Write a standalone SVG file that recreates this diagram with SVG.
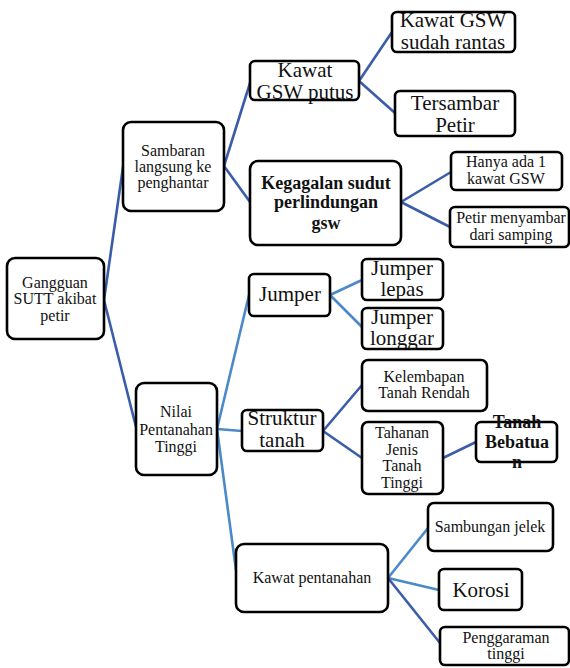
<svg xmlns="http://www.w3.org/2000/svg" width="570" height="668" viewBox="0 0 570 668" font-family="Liberation Serif">
<style>
svg g text, svg g tspan, text, tspan{font-family:"Liberation Serif",serif !important}
.box{fill:#fff;stroke:#000;stroke-width:2.6}
.d{stroke:#3b5ca8;stroke-width:2.6;fill:none}
.l{stroke:#4b89c8;stroke-width:2.6;fill:none}
</style>
<rect width="570" height="668" fill="#fff"/>
<g id="connectors">
<line class="d" x1="104" y1="300" x2="123" y2="167"/>
<line class="d" x1="104" y1="300" x2="136" y2="427"/>
<line class="d" x1="224" y1="166" x2="250" y2="83"/>
<line class="d" x1="224" y1="166" x2="250" y2="202"/>
<line class="d" x1="359" y1="81" x2="392" y2="32"/>
<line class="d" x1="359" y1="81" x2="395" y2="113"/>
<line class="d" x1="401" y1="202" x2="451" y2="172"/>
<line class="d" x1="401" y1="202" x2="450" y2="227"/>
<line class="l" x1="217" y1="429" x2="249" y2="295"/>
<line class="l" x1="217" y1="429" x2="242" y2="431"/>
<line class="l" x1="217" y1="429" x2="236" y2="570"/>
<line class="l" x1="330" y1="295" x2="362" y2="280"/>
<line class="l" x1="330" y1="295" x2="362" y2="327"/>
<line class="d" x1="323" y1="431" x2="362" y2="385"/>
<line class="d" x1="323" y1="431" x2="362" y2="458"/>
<line class="d" x1="443" y1="458" x2="476" y2="442"/>
<line class="l" x1="388" y1="578" x2="428" y2="528"/>
<line class="l" x1="388" y1="578" x2="439" y2="590"/>
<line class="d" x1="388" y1="578" x2="440" y2="643"/>
</g>
<g id="gangguan">
<rect class="box" x="7" y="258" width="97" height="81" rx="8"/>
<text font-family="Liberation Serif" font-size="16" fill="#111" text-anchor="middle" style="font-family:'Liberation Serif',serif !important"><tspan x="55" y="288">Gangguan</tspan><tspan x="55" y="304">SUTT akibat</tspan><tspan x="55" y="321">petir</tspan></text>
</g>
<g id="sambaran">
<rect class="box" x="123" y="122" width="101" height="89" rx="8"/>
<text font-family="Liberation Serif" font-size="16" fill="#111" text-anchor="middle" style="font-family:'Liberation Serif',serif !important"><tspan x="173" y="156">Sambaran</tspan><tspan x="173" y="172">langsung ke</tspan><tspan x="173" y="188">penghantar</tspan></text>
</g>
<g id="nilai">
<rect class="box" x="136" y="383" width="81" height="92" rx="8"/>
<text font-family="Liberation Serif" font-size="16" fill="#111" text-anchor="middle" style="font-family:'Liberation Serif',serif !important"><tspan x="176" y="417">Nilai</tspan><tspan x="176" y="435">Pentanahan</tspan><tspan x="176" y="452">Tinggi</tspan></text>
</g>
<g id="kawat-gsw-putus">
<rect class="box" x="250" y="61" width="109" height="39" rx="5"/>
<text font-family="Liberation Serif" font-size="21" fill="#111" text-anchor="middle" style="font-family:'Liberation Serif',serif !important"><tspan x="305" y="77">Kawat</tspan><tspan x="305" y="99">GSW putus</tspan></text>
</g>
<g id="kegagalan">
<rect class="box" x="250" y="161" width="151" height="84" rx="8"/>
<text font-family="Liberation Serif" font-size="18" font-weight="bold" fill="#111" text-anchor="middle" style="font-family:'Liberation Serif',serif !important"><tspan x="326" y="189">Kegagalan sudut</tspan><tspan x="326" y="208">perlindungan</tspan><tspan x="326" y="229">gsw</tspan></text>
</g>
<g id="kawat-gsw-rantas">
<rect class="box" x="392" y="12" width="123" height="40" rx="5"/>
<text font-family="Liberation Serif" font-size="21" fill="#111" text-anchor="middle" style="font-family:'Liberation Serif',serif !important"><tspan x="453" y="27">Kawat GSW</tspan><tspan x="453" y="49">sudah rantas</tspan></text>
</g>
<g id="tersambar-petir">
<rect class="box" x="395" y="91" width="120" height="45" rx="5"/>
<text font-family="Liberation Serif" font-size="21" fill="#111" text-anchor="middle" style="font-family:'Liberation Serif',serif !important"><tspan x="455" y="110">Tersambar</tspan><tspan x="455" y="132">Petir</tspan></text>
</g>
<g id="hanya-ada">
<rect class="box" x="451" y="152" width="111" height="38" rx="5"/>
<text font-family="Liberation Serif" font-size="16" fill="#111" text-anchor="middle" style="font-family:'Liberation Serif',serif !important"><tspan x="506" y="167">Hanya ada 1</tspan><tspan x="506" y="184">kawat GSW</tspan></text>
</g>
<g id="petir-samping">
<rect class="box" x="450" y="207" width="119" height="40" rx="5"/>
<text font-family="Liberation Serif" font-size="16" fill="#111" text-anchor="middle" style="font-family:'Liberation Serif',serif !important"><tspan x="511" y="223">Petir menyambar</tspan><tspan x="511" y="240">dari samping</tspan></text>
</g>
<g id="jumper">
<rect class="box" x="249" y="274" width="81" height="42" rx="5"/>
<text font-family="Liberation Serif" font-size="21" fill="#111" text-anchor="middle" style="font-family:'Liberation Serif',serif !important" x="290" y="301">Jumper</text>
</g>
<g id="jumper-lepas">
<rect class="box" x="362" y="259" width="81" height="41" rx="5"/>
<text font-family="Liberation Serif" font-size="21" fill="#111" text-anchor="middle" style="font-family:'Liberation Serif',serif !important"><tspan x="402" y="275">Jumper</tspan><tspan x="402" y="296">lepas</tspan></text>
</g>
<g id="jumper-longgar">
<rect class="box" x="362" y="308" width="81" height="41" rx="5"/>
<text font-family="Liberation Serif" font-size="21" fill="#111" text-anchor="middle" style="font-family:'Liberation Serif',serif !important"><tspan x="402" y="324">Jumper</tspan><tspan x="402" y="345">longgar</tspan></text>
</g>
<g id="struktur-tanah">
<rect class="box" x="242" y="410" width="81" height="41" rx="5"/>
<text font-family="Liberation Serif" font-size="21" fill="#111" text-anchor="middle" style="font-family:'Liberation Serif',serif !important"><tspan x="282" y="425">Struktur</tspan><tspan x="282" y="447">tanah</tspan></text>
</g>
<g id="kelembapan">
<rect class="box" x="362" y="360" width="125" height="51" rx="6"/>
<text font-family="Liberation Serif" font-size="16" fill="#111" text-anchor="middle" style="font-family:'Liberation Serif',serif !important"><tspan x="424" y="382">Kelembapan</tspan><tspan x="424" y="398">Tanah Rendah</tspan></text>
</g>
<g id="tahanan">
<rect class="box" x="362" y="422" width="81" height="72" rx="6"/>
<text font-family="Liberation Serif" font-size="16" fill="#111" text-anchor="middle" style="font-family:'Liberation Serif',serif !important"><tspan x="402" y="438">Tahanan</tspan><tspan x="402" y="455">Jenis</tspan><tspan x="402" y="471">Tanah</tspan><tspan x="402" y="488">Tinggi</tspan></text>
</g>
<g id="tanah-bebatuan">
<rect class="box" x="476" y="422" width="81" height="40" rx="5"/>
<text font-family="Liberation Serif" font-size="18" font-weight="bold" fill="#111" text-anchor="middle" style="font-family:'Liberation Serif',serif !important"><tspan x="517" y="428">Tanah</tspan><tspan x="517" y="448">Bebatua</tspan><tspan x="517" y="468">n</tspan></text>
</g>
<g id="kawat-pentanahan">
<rect class="box" x="236" y="544" width="152" height="68" rx="8"/>
<text font-family="Liberation Serif" font-size="16" fill="#111" text-anchor="middle" style="font-family:'Liberation Serif',serif !important" x="312" y="583">Kawat pentanahan</text>
</g>
<g id="sambungan-jelek">
<rect class="box" x="428" y="503" width="125" height="48" rx="6"/>
<text font-family="Liberation Serif" font-size="16" fill="#111" text-anchor="middle" style="font-family:'Liberation Serif',serif !important" x="490" y="532">Sambungan jelek</text>
</g>
<g id="korosi">
<rect class="box" x="439" y="569" width="83" height="41" rx="5"/>
<text font-family="Liberation Serif" font-size="21" fill="#111" text-anchor="middle" style="font-family:'Liberation Serif',serif !important" x="481" y="597">Korosi</text>
</g>
<g id="penggaraman">
<rect class="box" x="440" y="627" width="129" height="38" rx="5"/>
<text font-family="Liberation Serif" font-size="16" fill="#111" text-anchor="middle" style="font-family:'Liberation Serif',serif !important"><tspan x="506" y="643">Penggaraman</tspan><tspan x="506" y="659">tinggi</tspan></text>
</g>
</svg>
